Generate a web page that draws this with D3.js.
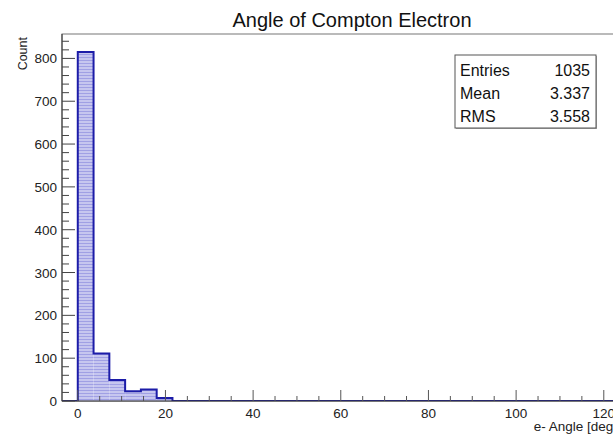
<!DOCTYPE html>
<html>
<head>
<meta charset="utf-8">
<script src="https://cdn.jsdelivr.net/npm/d3@7"></script>
<style>
  body { margin: 0; background: #fff; }
  svg { display: block; font-family: "Liberation Sans", Arial, sans-serif; }
</style>
</head>
<body>
<div id="container"></div>
<script>
const width = 613
const height = 435

// histogram: 3.6 deg bins, axis starts one empty bin below 0
const binWidth = 3.6
const xStart = -3.6
const counts = [0, 815, 111, 49, 23, 27, 7]
const xTicks = [0, 20, 40, 60, 80, 100, 120]
const yTicks = [0, 100, 200, 300, 400, 500, 600, 700, 800]
const statLabels = ["Entries", "Mean", "RMS"]
const statValues = ["1035", "3.337", "3.558"]

const frame = { left: 62, top: 34, right: 620, bottom: 401 }

const svg = d3.select('#container').append('svg')
    .attr('width', width).attr('height', height)

const x = d3.scaleLinear().domain([xStart, 123.7]).range([frame.left, frame.right])
const y = d3.scaleLinear().domain([0, 857]).range([frame.bottom, frame.top])

// hatch-like fill
const defs = svg.append("defs")
const pat = defs.append("pattern").attr("id", "hatch")
    .attr("patternUnits", "userSpaceOnUse").attr("width", 4).attr("height", 3)
pat.append("rect").attr("width", 4).attr("height", 3).attr("fill", "#c6c6ef")
pat.append("rect").attr("width", 4).attr("height", 1).attr("fill", "#a0a0e4")
defs.append("clipPath").attr("id", "clip").append("rect")
    .attr("x", frame.left).attr("y", frame.top)
    .attr("width", frame.right - frame.left).attr("height", frame.bottom - frame.top)

// frame
svg.append("rect")
    .attr("x", frame.left).attr("y", frame.top)
    .attr("width", frame.right - frame.left).attr("height", frame.bottom - frame.top)
    .attr("fill", "none").attr("stroke", "#777").attr("stroke-width", 1)

// histogram
const nBins = Math.ceil((130 - xStart) / binWidth)
const vals = d3.range(nBins).map(i => i < counts.length ? counts[i] : 0)
const pts = []
vals.forEach((v, i) => {
    pts.push([x(xStart + i * binWidth), y(v)])
    pts.push([x(xStart + (i + 1) * binWidth), y(v)])
})
const g = svg.append("g").attr("clip-path", "url(#clip)")
g.selectAll(".bar").data(counts).enter().append("rect")
    .attr("class", "bar")
    .attr("x", (d, i) => x(xStart + i * binWidth))
    .attr("y", d => y(d))
    .attr("width", x(binWidth) - x(0))
    .attr("height", d => y(0) - y(d))
    .attr("fill", "url(#hatch)")

// axes lines
svg.append("line").attr("x1", frame.left).attr("x2", frame.left)
    .attr("y1", frame.top).attr("y2", frame.bottom).attr("stroke", "#333")
svg.append("line").attr("x1", frame.left).attr("x2", frame.right)
    .attr("y1", frame.bottom).attr("y2", frame.bottom).attr("stroke", "#333")

// y ticks
d3.range(0, 860, 20).forEach(v => {
    const major = v % 100 === 0
    svg.append("line").attr("x1", frame.left).attr("x2", frame.left + (major ? 13 : 7))
        .attr("y1", y(v)).attr("y2", y(v)).attr("stroke", "#444")
})
svg.selectAll(".ylab").data(yTicks).enter().append("text")
    .attr("x", 57).attr("y", d => y(d) + 5)
    .attr("text-anchor", "end").attr("font-size", 13.5).attr("fill", "#222")
    .text(d => d)

// x ticks
d3.range(0, 126, 5).forEach(v => {
    const major = v % 20 === 0
    svg.append("line").attr("x1", x(v)).attr("x2", x(v))
        .attr("y1", frame.bottom).attr("y2", frame.bottom - (major ? 11 : 5))
        .attr("stroke", "#555")
})

g.append("path")
    .attr("d", d3.line()(pts))
    .attr("fill", "none").attr("stroke", "#1c1ca8").attr("stroke-width", 2)

svg.selectAll(".xlab").data(xTicks).enter().append("text")
    .attr("x", d => x(d)).attr("y", 418)
    .attr("text-anchor", "middle").attr("font-size", 13.5).attr("fill", "#222")
    .text(d => d)

// titles
svg.append("text").attr("x", 352).attr("y", 27)
    .attr("text-anchor", "middle").attr("font-size", 20).attr("fill", "#111")
    .text("Angle of Compton Electron")
svg.append("text").attr("x", 617).attr("y", 431)
    .attr("text-anchor", "end").attr("font-size", 13.5).attr("fill", "#222")
    .text("e- Angle [deg]")
svg.append("text")
    .attr("transform", "translate(27,37) rotate(-90)")
    .attr("text-anchor", "end").attr("font-size", 12.5).attr("fill", "#222")
    .text("Count")

// stats box
const box = { x: 455, y: 55, w: 141, h: 73 }
svg.append("rect").attr("x", box.x + 1).attr("y", box.y + 1)
    .attr("width", box.w).attr("height", box.h).attr("fill", "#aaa")
svg.append("rect").attr("x", box.x).attr("y", box.y)
    .attr("width", box.w).attr("height", box.h)
    .attr("fill", "#fff").attr("stroke", "#555")
statLabels.forEach((s, i) => {
    svg.append("text").attr("x", box.x + 5).attr("y", box.y + 21 + i * 23)
        .attr("font-size", 16).attr("fill", "#111").text(s)
    svg.append("text").attr("x", box.x + box.w - 6).attr("y", box.y + 21 + i * 23)
        .attr("text-anchor", "end").attr("font-size", 16).attr("fill", "#111").text(statValues[i])
})
</script>
</body>
</html>
